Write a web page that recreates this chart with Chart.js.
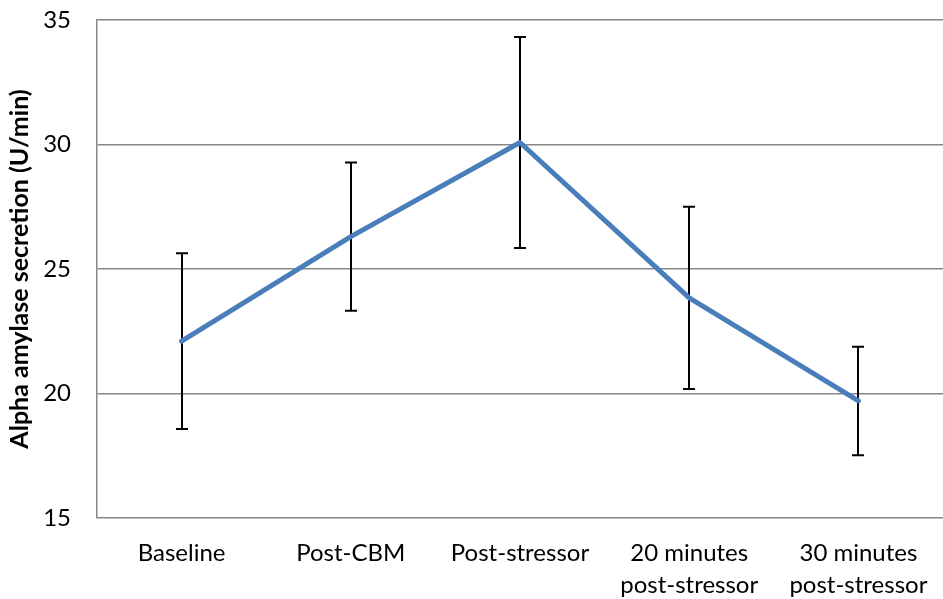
<!DOCTYPE html>
<html>
<head>
<meta charset="utf-8">
<title>Alpha amylase secretion</title>
<script src="https://cdn.jsdelivr.net/npm/chart.js@4/dist/chart.umd.min.js"></script>
<style>
  html, body { margin: 0; padding: 0; background: #ffffff; }
  #wrap { width: 943px; height: 599px; }
</style>
</head>
<body>
<div id="wrap"><canvas id="chart" width="943" height="599"></canvas></div>
<script>
// Measurement points (two-line labels are arrays)
const timepoints = [
  'Baseline',
  'Post-CBM',
  'Post-stressor',
  ['20 minutes', 'post-stressor'],
  ['30 minutes', 'post-stressor']
];
// Mean secretion rate (U/min)
const meanSecretion = [22.1, 26.3, 30.08, 23.84, 19.7];
// Error bar half-length (U/min)
const errorSize = [3.53, 2.98, 4.24, 3.66, 2.18];

// Y-axis range and step
const yMin = 15;
const yMax = 35;
const yStep = 5;

const FONT = 'Lato, "Liberation Sans", sans-serif';
const GRID = '#878787';

// Draws vertical error bars with caps, underneath the line
const errorBarPlugin = {
  id: 'errorBars',
  beforeDatasetsDraw(chart) {
    const { ctx, scales: { x, y } } = chart;
    ctx.save();
    ctx.strokeStyle = '#000000';
    ctx.lineWidth = 2;
    const cap = 6;
    meanSecretion.forEach((v, i) => {
      const px = Math.round(x.getPixelForValue(i));
      const top = y.getPixelForValue(v + errorSize[i]);
      const bot = y.getPixelForValue(v - errorSize[i]);
      ctx.beginPath();
      ctx.moveTo(px, top);
      ctx.lineTo(px, bot);
      ctx.moveTo(px - cap, top);
      ctx.lineTo(px + cap, top);
      ctx.moveTo(px - cap, bot);
      ctx.lineTo(px + cap, bot);
      ctx.stroke();
    });
    ctx.restore();
  }
};

new Chart(document.getElementById('chart'), {
  type: 'line',
  data: {
    labels: timepoints,
    datasets: [{
      data: meanSecretion,
      borderColor: '#4a7ebb',
      borderWidth: 5,
      borderJoinStyle: 'round',
      borderCapStyle: 'round',
      pointRadius: 0,
      pointHoverRadius: 0,
      tension: 0,
      fill: false
    }]
  },
  options: {
    responsive: false,
    animation: false,
    events: [],
    layout: { padding: { top: 20, right: 0, left: 0, bottom: 0 } },
    plugins: {
      legend: { display: false },
      tooltip: { enabled: false }
    },
    scales: {
      x: {
        type: 'category',
        offset: true,
        grid: { display: false, drawTicks: false },
        border: { display: false },
        ticks: {
          color: '#000000',
          padding: 19,
          maxRotation: 0,
          autoSkip: false,
          font: { family: FONT, size: 24, lineHeight: 1.33 }
        },
        afterFit(scale) {
          scale.height = 81;
          scale.paddingLeft = 0;
          scale.paddingRight = 0;
        }
      },
      y: {
        min: yMin,
        max: yMax,
        grid: { color: GRID, lineWidth: 1.5, drawTicks: false },
        border: { display: true, color: GRID, width: 1.5 },
        ticks: {
          stepSize: yStep,
          color: '#000000',
          padding: 26,
          font: { family: FONT, size: 24 }
        },
        title: {
          display: true,
          text: 'Alpha amylase secretion (U/min)',
          color: '#000000',
          font: { family: FONT, size: 25, weight: 'bold' },
          padding: { top: 5, bottom: 0 }
        },
        afterFit(scale) {
          scale.width = 97;
          scale.paddingTop = 0;
          scale.paddingBottom = 0;
        }
      }
    }
  },
  plugins: [errorBarPlugin]
});
</script>
</body>
</html>
